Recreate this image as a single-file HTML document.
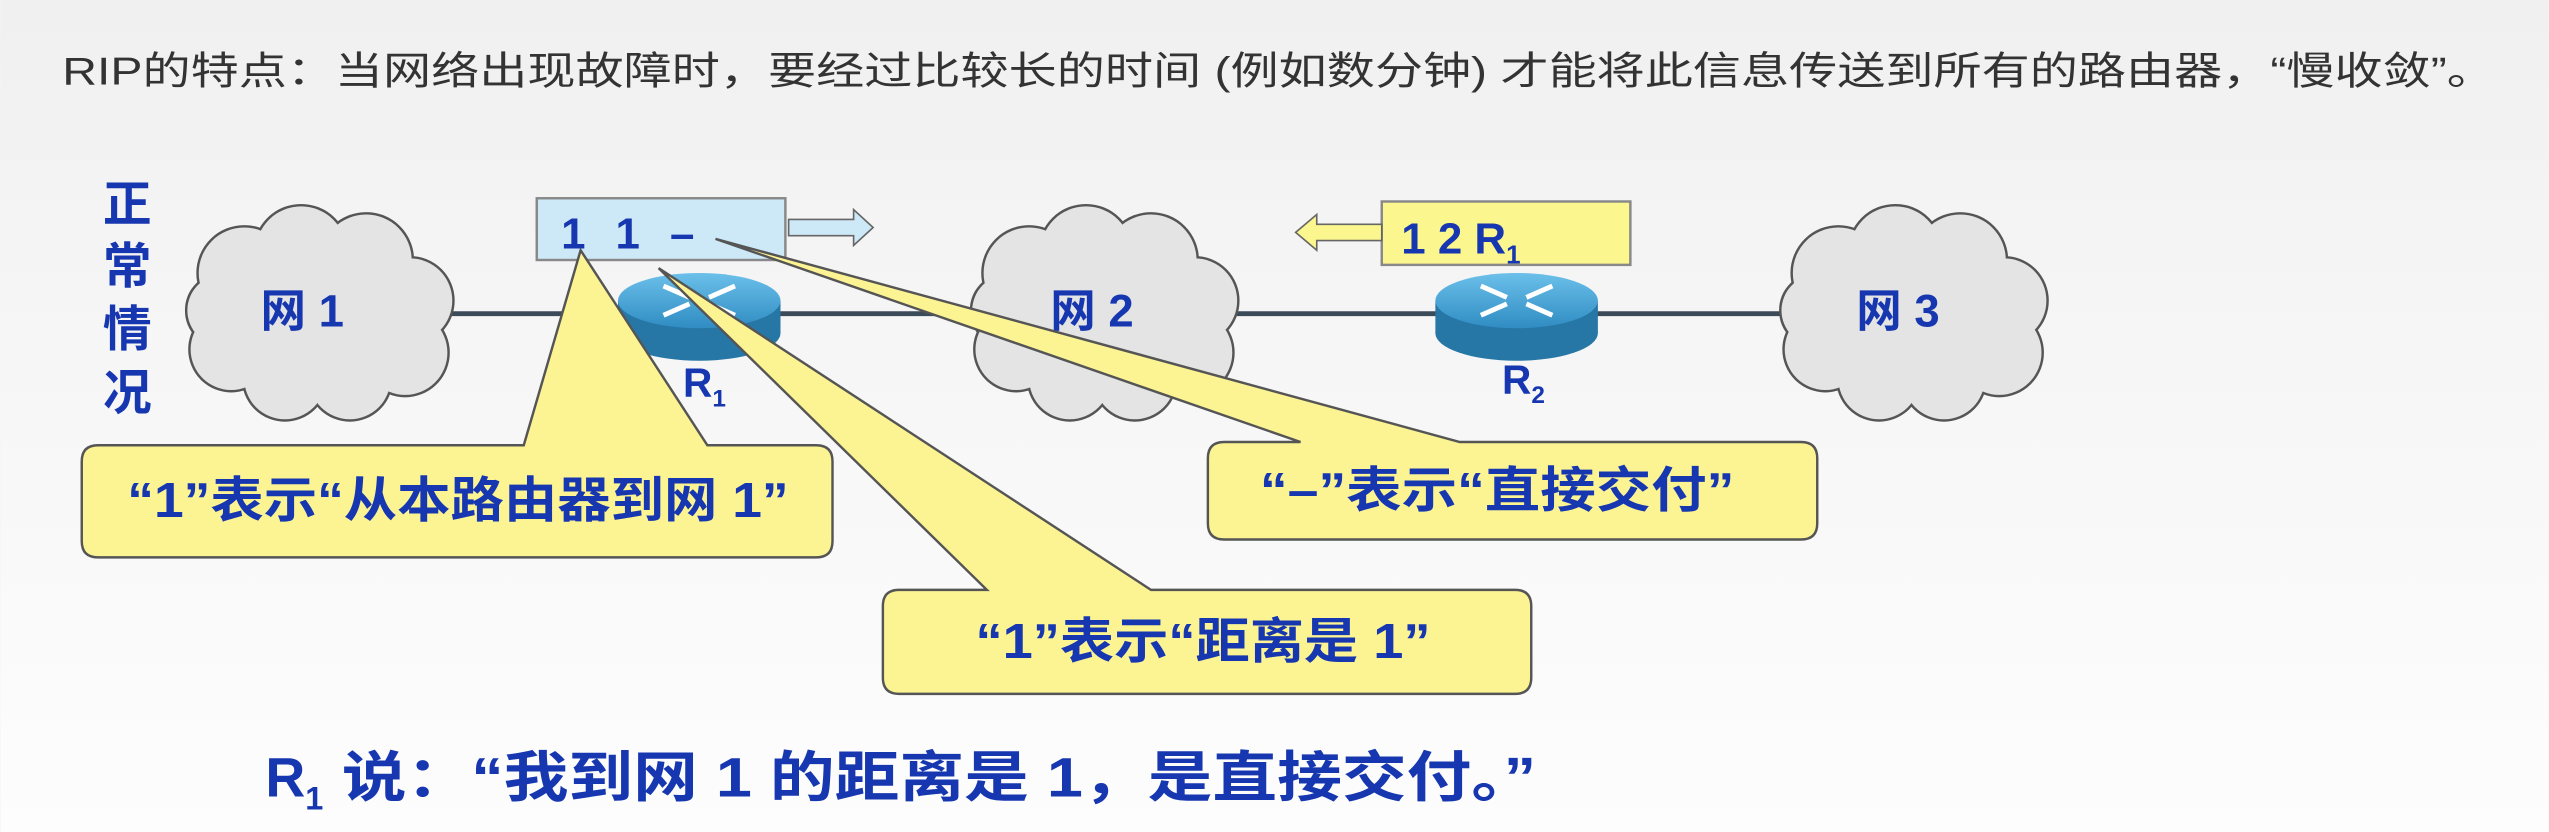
<!DOCTYPE html>
<html><head><meta charset="utf-8"><style>
html,body{margin:0;padding:0;background:#f4f4f4;}
svg{display:block;}
text{font-family:"Liberation Sans","Noto Sans CJK SC",sans-serif;}
.b{fill:#1737b0;font-weight:bold;}
</style></head><body>
<svg width="2549" height="832" viewBox="0 0 1568 512" xmlns="http://www.w3.org/2000/svg">
<defs>
<linearGradient id="bg" x1="0" y1="0" x2="0" y2="1"><stop offset="0" stop-color="#f0f0f0"/><stop offset="0.5" stop-color="#f7f7f7"/><stop offset="1" stop-color="#fdfdfd"/></linearGradient>
<linearGradient id="rt" x1="0" y1="0" x2="0" y2="1"><stop offset="0" stop-color="#6cc0ea"/><stop offset="1" stop-color="#2f8cc2"/></linearGradient>
<g id="cs">
<circle cx="-47" cy="-25" r="28"/><circle cx="-12" cy="-38" r="28"/><circle cx="28" cy="-33" r="28"/><circle cx="55" cy="-8" r="26"/><circle cx="52" cy="24" r="26"/><circle cx="18" cy="40" r="25"/><circle cx="-22" cy="40" r="25"/><circle cx="-55" cy="22" r="25"/><circle cx="-60" cy="-2" r="22"/><circle cx="0" cy="0" r="45"/>
</g>
<g id="cloud"><use href="#cs" fill="none" stroke="#555" stroke-width="3"/><use href="#cs" fill="#e4e4e4"/></g>
<g id="router">
<rect x="-50" y="-8" width="100" height="20" fill="#2676a6"/>
<ellipse cx="0" cy="12" rx="50" ry="17" fill="#2676a6"/>
<ellipse cx="0" cy="-8" rx="50" ry="17" fill="url(#rt)"/>
<g stroke="#fff" stroke-width="3" fill="none">
<path d="M-22,-17 L-6,-10 M6,-6 L22,1 M22,-17 L6,-10 M-6,-6 L-22,1"/>
</g>
</g>
</defs>
<rect width="1568" height="512" fill="url(#bg)"/>
<text x="38" y="52" font-size="24" fill="#333" textLength="1497" lengthAdjust="spacingAndGlyphs">RIP的特点：当网络出现故障时，要经过比较长的时间 (例如数分钟) 才能将此信息传送到所有的路由器，“慢收敛”。</text>
<g class="b" font-size="30" text-anchor="middle">
<text x="78" y="136">正</text><text x="78" y="174">常</text><text x="78" y="213">情</text><text x="78" y="252">况</text>
</g>
<line x1="275" y1="193" x2="1100" y2="193" stroke="#3c4b5a" stroke-width="3"/>
<use href="#cloud" x="197" y="193"/>
<use href="#cloud" x="680" y="193"/>
<use href="#cloud" x="1178" y="193"/>
<g class="b" font-size="28"><text x="160" y="201">网 1</text><text x="646" y="201">网 2</text><text x="1142" y="201">网 3</text></g>
<use href="#router" x="430" y="193"/>
<use href="#router" x="933" y="193"/>
<g class="b" font-size="25"><text x="420" y="244">R<tspan font-size="15" dy="6">1</tspan></text><text x="924" y="242">R<tspan font-size="15" dy="6">2</tspan></text></g>
<rect x="330" y="122" width="153" height="38" fill="#cde9f8" stroke="#888" stroke-width="1.5"/>
<text class="b" x="345" y="153" font-size="27" textLength="82" lengthAdjust="spacing">1 1 –</text>
<path d="M485,135 L525,135 L525,129 L537,140 L525,151 L525,145 L485,145 Z" fill="#cde9f8" stroke="#666" stroke-width="1"/>
<rect x="850" y="124" width="153" height="39" fill="#fbf68e" stroke="#888" stroke-width="1.5"/>
<text class="b" x="862" y="156" font-size="27">1  2  R<tspan font-size="16" dy="6">1</tspan></text>
<path d="M850,138 L810,138 L810,132 L797,143 L810,154 L810,148 L850,148 Z" fill="#fbf68e" stroke="#666" stroke-width="1"/>
<g fill="#fcf493" stroke="#555" stroke-width="1.5">
<path d="M60,274 L322,274 L357,154 L435,274 L502,274 Q512,274 512,284 L512,333 Q512,343 502,343 L60,343 Q50,343 50,333 L50,284 Q50,274 60,274 Z"/>
<path d="M553,363 L607,363 L405,165 L708,363 L932,363 Q942,363 942,373 L942,417 Q942,427 932,427 L553,427 Q543,427 543,417 L543,373 Q543,363 553,363 Z"/>
<path d="M753,272 L800,272 L440,147 L898,272 L1108,272 Q1118,272 1118,282 L1118,322 Q1118,332 1108,332 L753,332 Q743,332 743,322 L743,282 Q743,272 753,272 Z"/>
</g>
<g class="b" font-size="30">
<text x="78" y="318" textLength="407" lengthAdjust="spacingAndGlyphs">“1”表示“从本路由器到网 1”</text>
<text x="600" y="405" textLength="280" lengthAdjust="spacingAndGlyphs">“1”表示“距离是 1”</text>
<text x="775" y="312" textLength="292" lengthAdjust="spacingAndGlyphs">“–”表示“直接交付”</text>
</g>
<text class="b" x="163" y="490" font-size="34">R<tspan font-size="20" dy="8">1</tspan></text>
<text class="b" x="210" y="490" font-size="34" textLength="735" lengthAdjust="spacingAndGlyphs">说：“我到网 1 的距离是 1，是直接交付。”</text>
</svg>
</body></html>
